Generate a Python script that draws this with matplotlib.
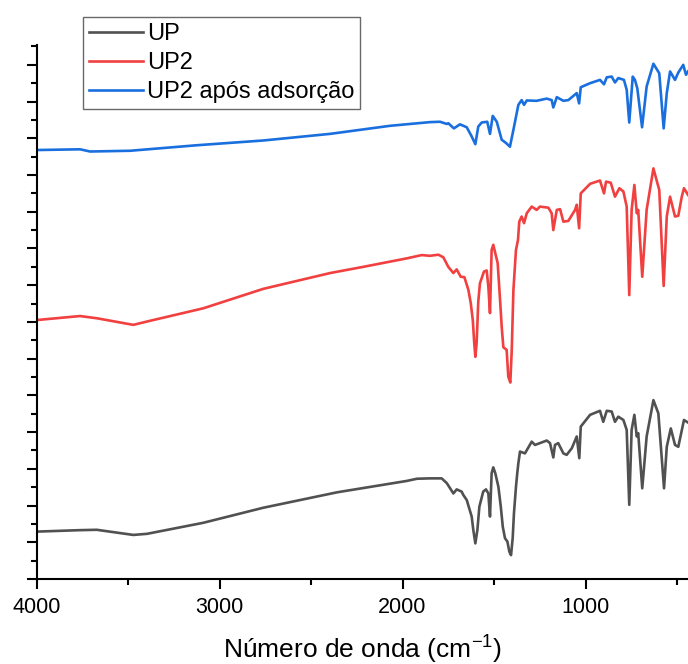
import matplotlib
matplotlib.use("Agg")
import matplotlib.pyplot as plt
from matplotlib.ticker import MultipleLocator, NullFormatter

plt.rcParams['font.family'] = ['Liberation Sans', 'DejaVu Sans']
plt.rcParams['mathtext.fontset'] = 'custom'
plt.rcParams['mathtext.rm'] = 'Liberation Sans'

# ---- data (wavenumber cm-1, transmittance in arbitrary offset units) ----
up_wn = [4000, 3762, 3671, 3471, 3396, 3089, 2761, 2358, 1977, 1921, 1850, 1786, 1758, 1722, 1704,
         1677, 1668, 1649, 1622, 1613, 1602, 1591, 1580, 1559, 1544, 1531, 1522, 1513, 1504, 1493,
         1476, 1463, 1452, 1440, 1427, 1416, 1407, 1398, 1391, 1380, 1373, 1367, 1358, 1331, 1294,
         1276, 1212, 1194, 1176, 1167, 1149, 1121, 1103, 1075, 1048, 1034, 1026, 975, 921, 903,
         884, 857, 839, 821, 793, 775, 761, 748, 733, 720, 712, 690, 666, 629, 602, 571, 556, 534,
         511, 493, 462, 440]
up_t = [12.9, 13.3, 13.4, 12.0, 12.3, 15.3, 19.4, 23.6, 26.7, 27.3, 27.4, 27.4, 26.1, 23.3, 24.4,
        23.8, 22.9, 21.5, 17.0, 13.3, 9.7, 13.3, 19.7, 23.8, 24.4, 23.3, 17.0, 28.8, 30.4, 28.8,
        25.1, 19.7, 14.2, 11.1, 10.2, 7.4, 6.5, 11.1, 17.9, 25.1, 28.8, 31.5, 34.7, 34.2, 37.4,
        36.5, 37.7, 37.0, 33.1, 36.5, 37.0, 34.2, 33.8, 35.6, 38.8, 32.9, 41.5, 44.7, 45.8, 42.8,
        45.8, 45.6, 42.8, 44.2, 43.3, 40.6, 20.2, 40.6, 44.7, 38.8, 39.7, 24.7, 38.8, 48.7, 45.1,
        24.7, 36.0, 41.0, 36.5, 36.0, 43.3, 42.6]

up2_wn = [4000, 3762, 3671, 3471, 3380, 3089, 2761, 2396, 2214, 1977, 1895, 1850, 1804, 1777, 1750,
          1722, 1704, 1682, 1662, 1640, 1627, 1616, 1608, 1602, 1595, 1586, 1577, 1555, 1540, 1531,
          1522, 1513, 1504, 1493, 1480, 1467, 1458, 1449, 1431, 1422, 1411, 1403, 1394, 1380, 1369,
          1362, 1349, 1336, 1321, 1294, 1267, 1249, 1203, 1185, 1176, 1157, 1139, 1121, 1094, 1057,
          1048, 1035, 1026, 975, 921, 899, 888, 862, 839, 815, 793, 775, 761, 748, 733, 720, 712,
          690, 666, 629, 597, 573, 556, 538, 511, 493, 474, 462, 440]
up2_t = [70.5, 71.6, 71.0, 69.2, 70.3, 73.7, 79.0, 83.3, 85.0, 87.3, 88.2, 88.0, 88.3, 87.6, 85.0,
         83.3, 84.3, 82.3, 82.2, 78.7, 75.1, 70.5, 64.2, 60.5, 64.2, 75.5, 80.5, 83.7, 84.0, 79.6,
         72.4, 89.6, 91.0, 88.7, 86.0, 76.0, 68.7, 63.1, 62.4, 55.1, 53.5, 62.4, 78.7, 89.6, 92.3,
         97.3, 98.7, 96.9, 99.6, 101.4, 100.5, 101.4, 101.1, 99.6, 95.0, 100.5, 100.7, 97.3, 97.5, 100.5,
         101.9, 95.5, 105.0, 107.6, 108.5, 105.0, 108.2, 107.9, 104.1, 106.4, 105.5, 101.4, 77.3, 100.5, 107.3, 99.6, 100.5,
         82.3, 100.5, 111.8, 105.9, 79.8, 98.7, 104.1, 98.7, 98.9, 104.1, 106.4, 104.6]

ads_wn = [4000, 3762, 3707, 3489, 3125, 2761, 2396, 2068, 1850, 1795, 1758, 1750, 1719, 1686, 1649,
          1622, 1602, 1586, 1567, 1537, 1522, 1507, 1485, 1458, 1434, 1413, 1394, 1367, 1349, 1336,
          1321, 1267, 1212, 1185, 1176, 1157, 1121, 1094, 1048, 1035, 1026, 975, 921, 899, 884,
          857, 839, 821, 790, 775, 761, 742, 730, 717, 691, 666, 629, 597, 573, 556, 538, 511,
          493, 466, 451, 440]
ads_t = [116.8, 117.0, 116.4, 116.6, 118.1, 119.4, 121.2, 123.4, 124.4, 124.5, 123.9, 124.1, 122.7, 123.8, 123.0,
         120.5, 118.4, 123.2, 124.3, 124.5, 121.2, 126.1, 124.5, 119.6, 118.7, 117.7, 122.3, 129.1, 130.4, 129.1,
         130.3, 130.2, 130.8, 130.4, 128.4, 131.2, 130.2, 130.4, 132.3, 129.5, 133.9, 135.0, 135.9, 134.7, 136.6,
         136.8, 135.2, 136.4, 135.9, 133.2, 124.3, 136.8, 135.9, 133.6, 123.0, 134.1, 140.3, 137.7, 122.7, 132.3, 138.2, 135.9,
         137.9, 140.0, 137.3, 138.2]

labels = ["UP", "UP2", "UP2 após adsorção"]
colors = ["#515151", "#F14040", "#1A6FDF"]
xticks = [4000, 3000, 2000, 1000]

fig = plt.figure(figsize=(6.88, 6.64), dpi=100)
ax = fig.add_axes([36.5 / 688, 85 / 664, 1 - 36.5 / 688, (579 - 45) / 664])

lines = []
for wn, t, lab, c in zip([up_wn, up2_wn, ads_wn], [up_t, up2_t, ads_t], labels, colors):
    ln, = ax.plot(wn, t, color=c, lw=1.9, label=lab, solid_joinstyle='round')
    lines.append(ln)

ax.set_xlim(4000, 440)
ax.set_ylim(0, 145.4)
ax.set_xticks(xticks)
ax.xaxis.set_minor_locator(MultipleLocator(500))
ax.yaxis.set_major_locator(MultipleLocator(10))
ax.yaxis.set_minor_locator(MultipleLocator(5))
ax.yaxis.set_major_formatter(NullFormatter())

for s in ['top', 'right']:
    ax.spines[s].set_visible(False)
for s in ['left', 'bottom']:
    ax.spines[s].set_linewidth(1.5)

ax.tick_params(axis='both', which='major', direction='out', length=7, width=1.5,
               labelsize=15.5, pad=6)
ax.tick_params(axis='both', which='minor', direction='out', length=4, width=1.5)

ax.set_xlabel("Número de onda (cm$^{\\mathregular{-1}}$)", fontsize=19, labelpad=10)

leg = fig.legend(handles=lines, loc='upper left', bbox_to_anchor=(83 / 688, 1 - 17 / 664),
                 fontsize=17, frameon=True, fancybox=False, edgecolor='#444444',
                 handlelength=2.3, handletextpad=0.15, labelspacing=0.3, borderpad=0.25,
                 borderaxespad=0)
leg.get_frame().set_linewidth(1.0)

fig.savefig("out.png", dpi=100)
